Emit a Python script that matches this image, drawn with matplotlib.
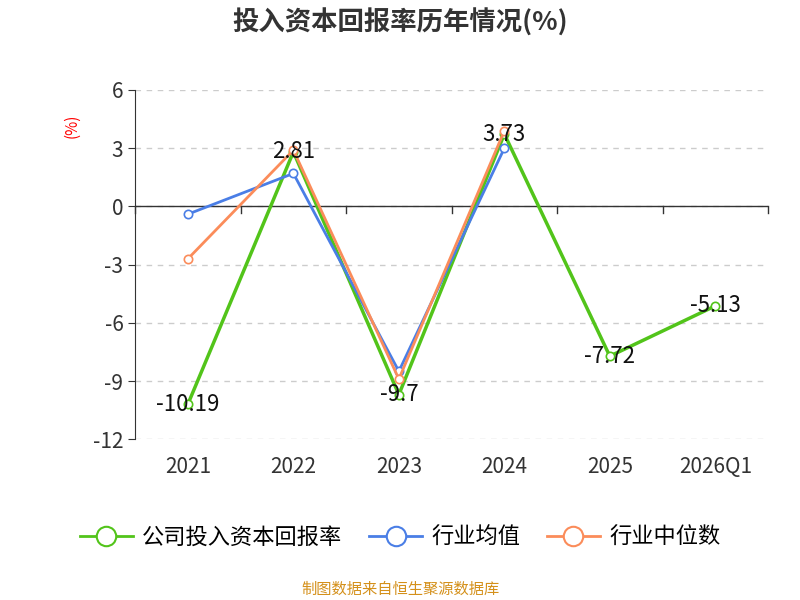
import matplotlib.pyplot as plt
from matplotlib.lines import Line2D

plt.rcParams['font.family'] = ['Noto Sans CJK SC', 'DejaVu Sans']

years = ['2021', '2022', '2023', '2024', '2025', '2026Q1']
company = [-10.19, 2.81, -9.7, 3.73, -7.72, -5.13]
ind_mean = [-0.4, 1.7, -8.5, 3.0]
ind_median = [-2.7, 2.9, -8.9, 3.9]
yticks = [6, 3, 0, -3, -6, -9, -12]

green = '#52c41a'
blue = '#4a7ee6'
orange = '#fb8c5a'

fig = plt.figure(figsize=(8, 6), dpi=100)
ax = fig.add_axes([0.169, 0.268, 0.791, 0.582])
x = list(range(len(years)))

ax.plot(x, company, color=green, lw=2.5, marker='o', ms=6, mfc='white', mew=1.2, zorder=3)
ax.plot(x[:4], ind_mean, color=blue, lw=2, marker='o', ms=6, mfc='white', mew=1.2, zorder=4)
ax.plot(x[:4], ind_median, color=orange, lw=2, marker='o', ms=6, mfc='white', mew=1.2, zorder=5)

for xi, v in zip(x, company):
    ax.annotate(f'{v:g}', (xi, v), textcoords='offset points', xytext=(0, 0),
                ha='center', va='center', fontsize=16, color='#111111', zorder=6)

ax.set_xlim(-0.5, 5.5)
ax.set_ylim(-12, 6)
ax.set_yticks(yticks)
ax.set_yticklabels([str(t) for t in yticks], fontsize=15, color='#333333')
ax.set_xticks(x)
ax.set_xticklabels(years, fontsize=15, color='#333333')
ax.grid(axis='y', ls=(0, (4, 4)), color='#cccccc', lw=1)
for s in ['top', 'right', 'bottom']:
    ax.spines[s].set_visible(False)
ax.spines['left'].set_color('#333333')
ax.axhline(0, color='#333333', lw=1, zorder=2)
ax.tick_params(axis='x', length=0, pad=12)
ax.tick_params(axis='y', length=5, color='#333333')
for xt in [i - 0.5 for i in range(7)]:
    ax.plot([xt, xt], [0, -0.35], color='#333333', lw=1, clip_on=False)

fig.text(0.09, 0.79, '(%)', color='red', fontsize=11, rotation=90, ha='center', va='center')
fig.text(0.5, 0.962, '投入资本回报率历年情况(%)', fontsize=19, fontweight='bold',
         ha='center', va='center', color='#333333')

handles = [Line2D([], [], color=c, lw=2, marker='o', ms=14, mfc='white', mew=1.5)
           for c in (green, blue, orange)]
fig.legend(handles, ['公司投入资本回报率', '行业均值', '行业中位数'], loc='center',
           bbox_to_anchor=(0.5, 0.105), ncol=3, frameon=False, fontsize=16,
           handlelength=2.4, columnspacing=1.2, handletextpad=0.4)
fig.text(0.5, 0.018, '制图数据来自恒生聚源数据库', color='#d4901a', fontsize=11,
         ha='center', va='center')

fig.savefig('out.png')
